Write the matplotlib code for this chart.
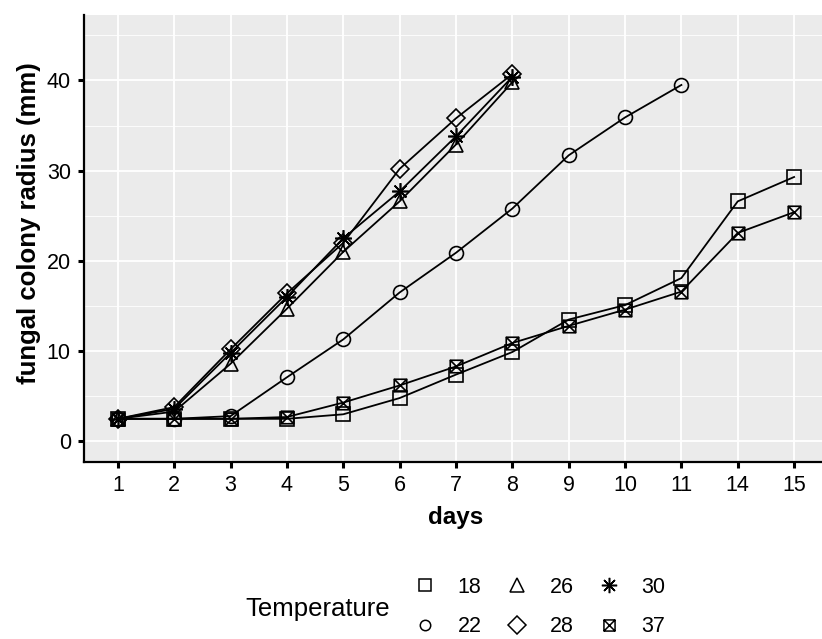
import matplotlib.pyplot as plt
import numpy as np
from matplotlib.path import Path
from matplotlib.lines import Line2D

plt.rcParams['font.family'] = ['Liberation Sans', 'DejaVu Sans']

# x axis is categorical (days as recorded)
days = ['1', '2', '3', '4', '5', '6', '7', '8', '9', '10', '11', '14', '15']

temps = ['18', '22', '26', '28', '30', '37']
t18 = [2.5, 2.5, 2.5, 2.5, 3.0, 4.8, 7.4, 9.9, 13.5, 15.1, 18.1, 26.6, 29.3]
t22 = [2.5, 2.5, 2.8, 7.1, 11.3, 16.5, 20.9, 25.8, 31.7, 35.9, 39.5]
t26 = [2.5, 3.3, 8.6, 14.7, 21.0, 26.6, 32.9, 39.8]
t28 = [2.5, 3.8, 10.2, 16.4, 22.0, 30.2, 35.8, 40.7]
t30 = [2.5, 3.6, 9.8, 16.0, 22.5, 27.7, 33.8, 40.4]
t37 = [2.5, 2.5, 2.5, 2.7, 4.3, 6.2, 8.3, 10.9, 12.8, 14.6, 16.6, 23.1, 25.4]
series = [t18, t22, t26, t28, t30, t37]

# square with an X through it (ggplot shape 7)
boxx = Path([(-1, -1), (1, -1), (1, 1), (-1, 1), (-1, -1),
             (-1, -1), (1, 1), (-1, 1), (1, -1)],
            [Path.MOVETO, Path.LINETO, Path.LINETO, Path.LINETO, Path.CLOSEPOLY,
             Path.MOVETO, Path.LINETO, Path.MOVETO, Path.LINETO])

markers = ['s', 'o', '^', 'D', (8, 2, 0), boxx]
msizes = [9.5, 10, 10, 9, 12, 9]
leg_sizes = [9, 7.5, 10, 9.5, 11, 8]

fig = plt.figure(figsize=(8.22, 6.39), dpi=100)
ax = fig.add_axes([0.1022, 0.2775, 0.905, 0.699])
ax.set_facecolor('#ebebeb')

for i in range(len(series)):
    y = series[i]
    x = np.arange(1, len(y) + 1)
    ax.plot(x, y, color='black', lw=1.3, marker=markers[i], ms=msizes[i],
            mfc='none', mec='black', mew=1.2, zorder=3)

ax.set_xlim(0.4, 13.6)
ax.set_ylim(-2.25, 47.25)
ax.set_xticks(np.arange(1, 14))
ax.set_xticklabels(days)
ax.set_yticks([0, 10, 20, 30, 40])
ax.set_yticks([5, 15, 25, 35, 45], minor=True)
ax.grid(True, which='major', color='white', lw=1.3, zorder=0)
ax.grid(True, which='minor', axis='y', color='white', lw=0.6, zorder=0)
ax.set_axisbelow(True)

for s in ['top', 'right']:
    ax.spines[s].set_visible(False)
for s in ['left', 'bottom']:
    ax.spines[s].set_linewidth(1.6)
ax.tick_params(which='major', length=4.5, width=2.2, labelsize=15.5, pad=5)
ax.tick_params(which='minor', length=0)

ax.set_xlabel('days', fontsize=17.5, fontweight='bold', labelpad=7)
ax.set_ylabel('fungal colony radius (mm)', fontsize=18.5, fontweight='bold', labelpad=4)
ax.yaxis.label.set_y(0.535)

handles = [Line2D([], [], ls='none', marker=markers[i], ms=leg_sizes[i],
                  mfc='none', mec='black', mew=1.1) for i in range(6)]
fig.legend(handles, temps, ncol=3, loc='center', bbox_to_anchor=(0.657, 0.05),
           frameon=False, fontsize=15.5, handlelength=1.0, handletextpad=1.0,
           columnspacing=1.15, labelspacing=0.85, borderpad=0)
fig.text(0.387, 0.047, 'Temperature', fontsize=18.5, ha='center', va='center')

fig.savefig('out.png', dpi=100)
